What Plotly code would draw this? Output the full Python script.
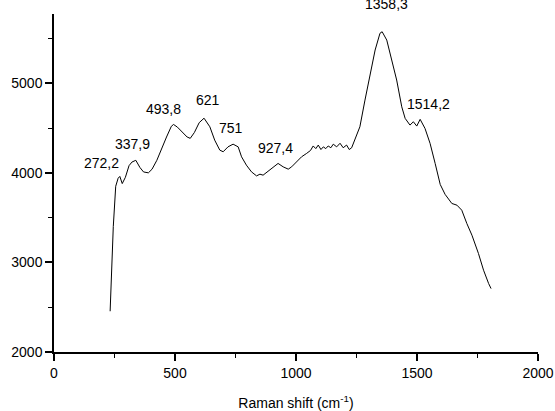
import plotly.graph_objects as go

shift = [232, 245, 255, 265, 272, 282, 295, 310, 322, 338, 355, 370, 390, 405, 425, 445, 465, 485, 494,
         510, 530, 550, 563, 580, 600, 620, 644, 664, 685, 699, 719, 740, 761, 775, 795, 816, 837, 851,
         864, 885, 906, 926, 947, 968, 982, 1002, 1023, 1044, 1060, 1071, 1082, 1092, 1103, 1113, 1123,
         1133, 1144, 1154, 1168, 1182, 1195, 1209, 1220, 1230, 1244, 1264, 1285, 1306, 1327, 1347, 1356,
         1375, 1396, 1416, 1437, 1451, 1471, 1485, 1499, 1513, 1533, 1554, 1575, 1596, 1616, 1644, 1665,
         1685, 1706, 1727, 1754, 1775, 1796, 1806]
intensity = [2455, 3400, 3850, 3940, 3960, 3880, 3950, 4080, 4120, 4140, 4060, 4010, 4000, 4040, 4140,
             4280, 4400, 4520, 4540, 4510, 4450, 4400, 4385, 4450, 4560, 4610, 4514, 4365, 4254, 4235,
             4290, 4320, 4290, 4179, 4086, 4011, 3966, 3985, 3974, 4022, 4067, 4105, 4067, 4041, 4067,
             4123, 4179, 4217, 4250, 4300, 4270, 4310, 4260, 4290, 4270, 4300, 4280, 4320, 4290, 4330,
             4280, 4310, 4260, 4280, 4384, 4514, 4812, 5073, 5371, 5558, 5575, 5482, 5259, 5036, 4737,
             4608, 4533, 4570, 4522, 4597, 4496, 4329, 4105, 3870, 3760, 3658, 3639, 3583, 3434, 3304,
             3099, 2913, 2764, 2708]

peak_labels = ["272,2", "337,9", "493,8", "621", "751", "927,4", "1514,2"]
peak_x = [197, 325, 453, 635, 730, 917, 1546]
peak_y = [4108, 4321, 4712, 4813, 4500, 4276, 4768]

top_label = "1358,3"
top_label_x = 1372

fig = go.Figure()
fig.add_trace(go.Scatter(x=shift, y=intensity, mode="lines",
                         line=dict(color="black", width=1), showlegend=False))

FONT = "Liberation Sans, Arial"
for t, xx, yy in zip(peak_labels, peak_x, peak_y):
    fig.add_annotation(x=xx, y=yy, xref="x", yref="y", text=t, showarrow=False,
                       font=dict(family=FONT, size=14, color="black"))
fig.add_annotation(x=top_label_x, y=1.058, xref="x", yref="paper", text=top_label, showarrow=False,
                   font=dict(family=FONT, size=14, color="black"))

axis_common = dict(showline=True, linecolor="black", linewidth=1.5, ticks="outside", ticklen=7,
                   tickwidth=1.5, tickcolor="black", showgrid=False, zeroline=False, mirror=False,
                   automargin=False,
                   tickfont=dict(family=FONT, size=14, color="black"))

fig.update_xaxes(range=[0, 2000], tickvals=[0, 500, 1000, 1500, 2000],
                 minor=dict(tickvals=[250, 750, 1250, 1750], ticks="outside", ticklen=4,
                            tickwidth=1, tickcolor="black"),
                 title=dict(text="Raman shift (cm<sup>-1</sup>)", standoff=19,
                            font=dict(family=FONT, size=14, color="black")),
                 **axis_common)
fig.update_yaxes(range=[2000, 5773], tickvals=[2000, 3000, 4000, 5000],
                 minor=dict(tickvals=[2500, 3500, 4500, 5500], ticks="outside", ticklen=4,
                            tickwidth=1, tickcolor="black"),
                 **axis_common)

fig.update_layout(width=555, height=411, margin=dict(l=54, r=17, t=14, b=59),
                  plot_bgcolor="white", paper_bgcolor="white",
                  font=dict(family=FONT, size=14, color="black"))

fig.write_html("out.html")
